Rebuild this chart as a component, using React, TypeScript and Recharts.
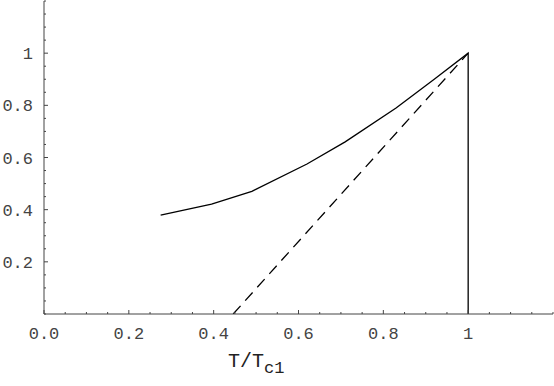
import { LineChart, Line, XAxis, YAxis } from "recharts";

// solid curve (ends with the vertical drop at T/Tc1 = 1)
const solidT = [0.275, 0.395, 0.49, 0.62, 0.71, 0.83, 0.92, 1.0, 1.0];
const solidV = [0.379, 0.421, 0.47, 0.575, 0.66, 0.79, 0.9, 1.0, 0.0];

// dashed straight line
const dashedT = [0.446, 1.0];
const dashedV = [0.0, 1.0];

const xMajor = [0, 0.2, 0.4, 0.6, 0.8, 1.0];
const xLabels = ["0.0", "0.2", "0.4", "0.6", "0.8", "1"];
const yMajor = [0.2, 0.4, 0.6, 0.8, 1.0];
const yLabels = ["0.2", "0.4", "0.6", "0.8", "1"];
const allTicks = [
  0, 0.05, 0.1, 0.15, 0.2, 0.25, 0.3, 0.35, 0.4, 0.45, 0.5, 0.55, 0.6,
  0.65, 0.7, 0.75, 0.8, 0.85, 0.9, 0.95, 1.0, 1.05, 1.1, 1.15, 1.2,
];

const solidData = solidT.map((t, i) => ({ t, v: solidV[i] }));
const dashedData = dashedT.map((t, i) => ({ t, v: dashedV[i] }));

const FONT = "'Liberation Mono', 'DejaVu Sans Mono', monospace";
const AXIS = "#444";

const findIdx = (arr: number[], v: number) =>
  arr.findIndex((a) => Math.abs(a - v) < 1e-6);

function XTick(props: any) {
  const { x, y, payload, side } = props;
  const idx = findIdx(xMajor, payload.value);
  const len = idx >= 0 ? 4 : 2;
  const dir = side === "top" ? 1 : -1;
  return (
    <g>
      <line x1={x} x2={x} y1={y} y2={y + dir * len} stroke={AXIS} strokeWidth={1} />
      {side === "bottom" && idx >= 0 && (
        <text x={x} y={y + 25} textAnchor="middle" fontFamily={FONT} fontSize={17} fill="#444">
          {xLabels[idx]}
        </text>
      )}
    </g>
  );
}

function YTick(props: any) {
  const { x, y, payload, side } = props;
  const idx = findIdx(yMajor, payload.value);
  const len = idx >= 0 ? 4 : 2;
  const dir = side === "right" ? -1 : 1;
  return (
    <g>
      <line x1={x} x2={x + dir * len} y1={y} y2={y} stroke={AXIS} strokeWidth={1} />
      {side === "left" && idx >= 0 && (
        <text x={x - 11} y={y + 6} textAnchor="end" fontFamily={FONT} fontSize={17} fill="#444">
          {yLabels[idx]}
        </text>
      )}
    </g>
  );
}

function AxisTitle(props: any) {
  const vb = props.viewBox || { x: 44, y: 314 };
  return (
    <text x={vb.x + 184} y={vb.y + 53} fontFamily={FONT} fontSize={20} fill="#222">
      T/T
      <tspan dy={6} fontSize={17}>c1</tspan>
    </text>
  );
}

export default function App() {
  return (
    <div style={{ position: "absolute", left: 0, top: 0 }}>
      <LineChart width={554} height={386} margin={{ top: 1, right: 1, bottom: 0, left: 0 }}>
        <XAxis
          xAxisId="b"
          dataKey="t"
          type="number"
          domain={[0, 1.2]}
          ticks={allTicks}
          interval={0}
          height={72}
          tickSize={0}
          tickMargin={0}
          tickLine={false}
          axisLine={{ stroke: AXIS }}
          tick={<XTick side="bottom" />}
          label={<AxisTitle />}
          allowDataOverflow
        />
        <XAxis
          xAxisId="t"
          orientation="top"
          dataKey="t"
          type="number"
          domain={[0, 1.2]}
          ticks={allTicks}
          interval={0}
          height={0}
          tickSize={0}
          tickMargin={0}
          tickLine={false}
          axisLine={{ stroke: AXIS }}
          tick={<XTick side="top" />}
          allowDataOverflow
        />
        <YAxis
          yAxisId="l"
          type="number"
          domain={[0, 1.2]}
          ticks={allTicks}
          interval={0}
          width={44}
          tickSize={0}
          tickMargin={0}
          tickLine={false}
          axisLine={{ stroke: AXIS }}
          tick={<YTick side="left" />}
          allowDataOverflow
        />
        <YAxis
          yAxisId="r"
          orientation="right"
          type="number"
          domain={[0, 1.2]}
          ticks={allTicks}
          interval={0}
          width={0}
          tickSize={0}
          tickMargin={0}
          tickLine={false}
          axisLine={{ stroke: AXIS }}
          tick={<YTick side="right" />}
          allowDataOverflow
        />
        <Line
          xAxisId="b"
          yAxisId="l"
          data={dashedData}
          dataKey="v"
          type="linear"
          stroke="#000"
          strokeWidth={1.3}
          strokeDasharray="11 7"
          dot={false}
          isAnimationActive={false}
        />
        <Line
          xAxisId="b"
          yAxisId="l"
          data={solidData}
          dataKey="v"
          type="linear"
          stroke="#000"
          strokeWidth={1.3}
          dot={false}
          isAnimationActive={false}
        />
      </LineChart>
    </div>
  );
}
